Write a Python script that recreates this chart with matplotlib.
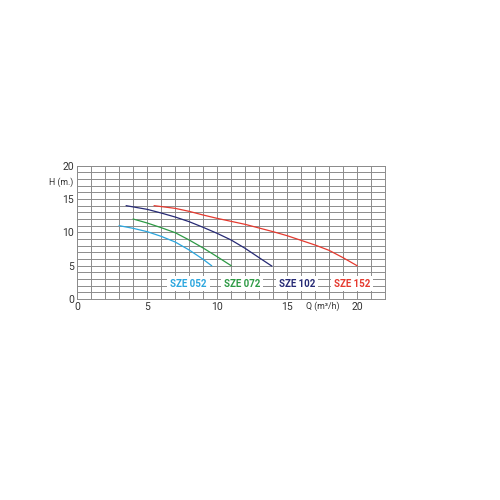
import numpy as np
import matplotlib.pyplot as plt

plt.rcParams['font.family'] = ['Roboto', 'DejaVu Sans']

# pump curves: flow Q (m3/h) and head H (m)
q_052 = [3.0, 4.0, 5.0, 6.0, 7.0, 8.0, 9.0, 9.6]
h_052 = [11.0, 10.6, 10.1, 9.4, 8.55, 7.35, 5.95, 5.0]

q_072 = [4.0, 5.0, 6.0, 7.0, 8.0, 9.0, 10.0, 11.0]
h_072 = [12.0, 11.4, 10.7, 9.95, 8.85, 7.65, 6.35, 5.0]

q_102 = [3.5, 5.0, 6.0, 7.0, 8.0, 9.0, 10.0, 11.0, 12.0, 13.0, 13.9]
h_102 = [14.0, 13.45, 12.9, 12.3, 11.6, 10.75, 9.85, 8.85, 7.6, 6.2, 4.95]

q_152 = [5.5, 7.0, 8.0, 9.0, 10.0, 11.0, 12.0, 13.0, 14.0, 15.0, 16.0, 17.0, 18.0, 19.0, 20.0]
h_152 = [14.0, 13.6, 13.15, 12.6, 12.1, 11.65, 11.2, 10.65, 10.1, 9.5, 8.8, 8.1, 7.3, 6.2, 5.0]

models = ['SZE 052', 'SZE 072', 'SZE 102', 'SZE 152']
label_x = [7.95, 11.8, 15.7, 19.65]
colors = ['#2ba6de', '#2e9a45', '#262a75', '#e53a2f']

x_ticks = [0, 5, 10, 15, 20]
y_ticks = [0, 5, 10, 15, 20]

fig = plt.figure(figsize=(5, 5), dpi=100)
ax = fig.add_axes([0.1546, 0.402, 0.6154, 0.2666])

ax.set_xlim(0, 22)
ax.set_ylim(0, 20)
ax.set_xticks(np.arange(0, 23, 1), minor=True)
ax.set_yticks(np.arange(0, 21, 1), minor=True)
ax.set_xticks(x_ticks)
ax.set_yticks(y_ticks)
ax.grid(True, which='both', color='#8c8c8c', linewidth=0.7)
ax.set_axisbelow(True)
ax.tick_params(which='both', length=0, labelsize=7.5, labelcolor='#333333', pad=2.5)
for s in ax.spines.values():
    s.set_color('#8c8c8c')
    s.set_linewidth(0.7)

curves = [(q_052, h_052), (q_072, h_072), (q_102, h_102), (q_152, h_152)]
for (q, h), c in zip(curves, colors):
    ax.plot(q, h, color=c, linewidth=0.9, zorder=3, solid_joinstyle='round')

for name, x, c in zip(models, label_x, colors):
    ax.text(x, 2.3, name, color=c, fontsize=7, fontweight='bold',
            ha='center', va='center', zorder=4,
            bbox=dict(facecolor='white', edgecolor='none', pad=2.0))

ax.text(-0.3, 17.5, 'H (m.)', fontsize=6.3, color='#333333',
        ha='right', va='center', clip_on=False)
ax.text(17.55, -1.05, 'Q (m³/h)', fontsize=6.3, color='#333333',
        ha='center', va='center', clip_on=False)

fig.savefig('out.png', dpi=100, facecolor='white')
